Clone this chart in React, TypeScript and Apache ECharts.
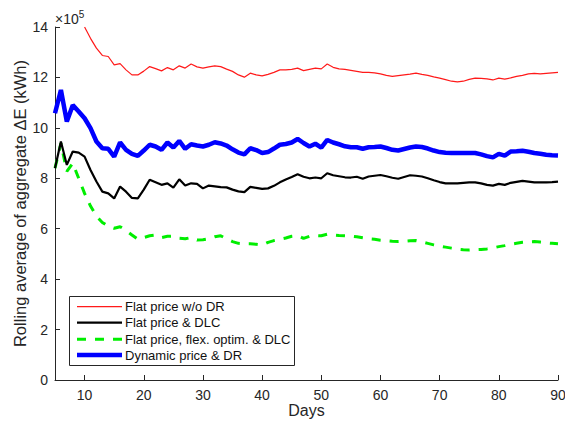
import React, { useEffect, useRef } from "react";
import * as echarts from "echarts";

const DAYS = [5,6,7,8,9,10,11,12,13,14,15,16,17,18,19,20,21,22,23,24,25,26,27,28,29,30,31,32,33,34,35,36,37,38,39,40,41,42,43,44,45,46,47,48,49,50,51,52,53,54,55,56,57,58,59,60,61,62,63,64,65,66,67,68,69,70,71,72,73,74,75,76,77,78,79,80,81,82,83,84,85,86,87,88,89,90];

const FLAT_NO_DR = [null,null,null,null,null,14.0,13.55,13.16,12.87,12.83,12.5,12.55,12.3,12.1,12.1,12.25,12.43,12.35,12.26,12.39,12.3,12.46,12.37,12.53,12.42,12.37,12.42,12.46,12.43,12.33,12.24,12.1,12.01,12.17,12.1,12.06,12.12,12.2,12.3,12.3,12.32,12.37,12.27,12.32,12.37,12.34,12.53,12.4,12.34,12.32,12.28,12.24,12.2,12.2,12.18,12.14,12.08,12.04,12.07,12.1,12.13,12.17,12.12,12.08,12.02,11.97,11.91,11.85,11.82,11.85,11.92,11.97,11.96,11.94,11.9,11.97,11.93,11.98,12.04,12.08,12.14,12.16,12.14,12.16,12.18,12.2];

const FLAT_DLC = [8.4,9.46,8.53,9.06,9.02,8.86,8.33,7.87,7.47,7.4,7.2,7.67,7.47,7.22,7.2,7.55,7.94,7.84,7.74,7.8,7.63,7.96,7.71,7.8,7.78,7.6,7.71,7.68,7.65,7.64,7.55,7.48,7.45,7.66,7.62,7.58,7.6,7.7,7.84,7.95,8.05,8.16,8.06,8.0,8.03,8.0,8.2,8.12,8.08,8.04,8.03,8.06,7.98,8.07,8.1,8.13,8.08,8.02,7.98,8.05,8.12,8.1,8.07,8.0,7.92,7.85,7.8,7.8,7.8,7.82,7.84,7.84,7.8,7.74,7.71,7.78,7.74,7.82,7.86,7.9,7.87,7.84,7.84,7.84,7.85,7.87];

const FLEX_DLC = [8.4,9.39,8.27,8.6,8.0,7.4,6.9,6.5,6.25,6.1,6.02,6.08,5.93,5.75,5.58,5.65,5.72,5.75,5.65,5.7,5.71,5.62,5.6,5.65,5.55,5.56,5.6,5.68,5.72,5.6,5.49,5.42,5.4,5.4,5.38,5.35,5.46,5.53,5.58,5.63,5.7,5.73,5.62,5.7,5.73,5.72,5.78,5.75,5.73,5.72,5.71,5.68,5.64,5.6,5.58,5.54,5.52,5.5,5.49,5.5,5.52,5.53,5.48,5.42,5.36,5.31,5.27,5.23,5.19,5.17,5.16,5.17,5.18,5.2,5.24,5.29,5.33,5.38,5.42,5.46,5.48,5.49,5.47,5.44,5.42,5.4];

const DYNAMIC_DR = [10.58,11.5,10.25,10.9,10.65,10.38,9.99,9.46,9.19,9.17,8.86,9.42,9.13,8.97,8.89,9.1,9.33,9.26,9.13,9.42,9.22,9.48,9.17,9.35,9.3,9.26,9.33,9.43,9.38,9.3,9.15,9.02,8.95,9.19,9.12,9.0,9.04,9.18,9.33,9.36,9.42,9.56,9.4,9.26,9.37,9.22,9.52,9.42,9.35,9.27,9.23,9.23,9.17,9.23,9.24,9.26,9.2,9.13,9.1,9.16,9.22,9.26,9.24,9.18,9.1,9.04,9.01,9.0,9.0,9.0,9.0,9.0,8.95,8.88,8.83,8.97,8.9,9.06,9.07,9.09,9.05,9.0,8.97,8.93,8.91,8.9];

const X_TICKS = [10,20,30,40,50,60,70,80,90];
const SERIES_NAMES = ["Flat price w/o DR", "Flat price & DLC", "Flat price, flex. optim. & DLC", "Dynamic price & DR"];
const SERIES_COLORS = ["#ff1a1a", "#000000", "#00ee00", "#0000ff"];
const SERIES_WIDTHS = [1.2, 2.2, 3, 4.5];
const SERIES_DASH: (number[] | "solid")[] = ["solid", "solid", [9, 9], "solid"];

const pairs = (vals: (number | null)[]) =>
  DAYS.map((d, i) => (vals[i] === null ? [d, null] : [d, vals[i]]));

const FONT = "Liberation Sans, Arial, sans-serif";
const AXIS_COLOR = "#262626";

export default function App() {
  const ref = useRef<HTMLDivElement>(null);
  useEffect(() => {
    if (!ref.current) return;
    const chart = echarts.init(ref.current, null, { renderer: "svg" });

    const legendX = 69.5, legendY = 296.5, legendW = 225, legendH = 69;
    const rowY = [306.7, 322.7, 339.3, 355];
    const legendGraphics: any[] = [
      {
        type: "rect",
        shape: { x: legendX, y: legendY, width: legendW, height: legendH },
        style: { fill: "#fff", stroke: AXIS_COLOR, lineWidth: 1 },
        z: 100,
      },
    ];
    SERIES_NAMES.forEach((name, i) => {
      legendGraphics.push({
        type: "line",
        shape: { x1: 77, y1: rowY[i], x2: 122, y2: rowY[i] },
        style: {
          stroke: SERIES_COLORS[i],
          lineWidth: SERIES_WIDTHS[i],
          lineDash: SERIES_DASH[i] === "solid" ? null : SERIES_DASH[i],
        },
        z: 101,
      });
      legendGraphics.push({
        type: "text",
        x: 125,
        y: rowY[i],
        style: {
          text: name,
          fontSize: 13,
          fontFamily: FONT,
          fill: "#111",
          verticalAlign: "middle",
          align: "left",
        },
        z: 101,
      });
    });

    chart.setOption({
      animation: false,
      backgroundColor: "#fff",
      textStyle: { fontFamily: FONT },
      grid: { left: 55, right: 7, top: 27, bottom: 41, containLabel: false, outerBoundsMode: "none" },
      xAxis: {
        type: "value",
        min: 5,
        max: 90,
        name: "Days",
        nameLocation: "middle",
        nameGap: 22,
        nameMoveOverlap: false,
        nameTextStyle: { fontSize: 16, lineHeight: 16, color: AXIS_COLOR, fontFamily: FONT },
        axisLine: { show: true, lineStyle: { color: AXIS_COLOR, width: 1 } },
        axisTick: { show: true, inside: true, length: 5, customValues: X_TICKS, lineStyle: { color: AXIS_COLOR } },
        axisLabel: { customValues: X_TICKS, fontSize: 14, color: AXIS_COLOR, margin: 8, fontFamily: FONT },
        splitLine: { show: false },
      },
      yAxis: {
        type: "value",
        min: 0,
        max: 14,
        interval: 2,
        name: "Rolling average of aggregate \u0394E (kWh)",
        nameLocation: "middle",
        nameGap: 27,
        nameMoveOverlap: false,
        nameTextStyle: { fontSize: 16.5, color: AXIS_COLOR, fontFamily: FONT },
        axisLine: { show: true, lineStyle: { color: AXIS_COLOR, width: 1 } },
        axisTick: { show: true, inside: true, length: 5, lineStyle: { color: AXIS_COLOR } },
        axisLabel: { fontSize: 14, color: AXIS_COLOR, margin: 7, fontFamily: FONT },
        splitLine: { show: false },
      },
      graphic: [
        {
          type: "text",
          x: 55,
          y: 9,
          style: {
            text: "{a|\u00d710}{b|5}",
            rich: {
              a: { fontSize: 14, fill: AXIS_COLOR, fontFamily: FONT },
              b: { fontSize: 10, fill: AXIS_COLOR, fontFamily: FONT, padding: [0, 0, 9, 0] },
            },
          },
        },
        ...legendGraphics,
      ],
      series: SERIES_NAMES.map((name, i) => ({
        name,
        type: "line",
        data: pairs([FLAT_NO_DR, FLAT_DLC, FLEX_DLC, DYNAMIC_DR][i]),
        showSymbol: false,
        symbol: "none",
        connectNulls: false,
        lineStyle: { color: SERIES_COLORS[i], width: SERIES_WIDTHS[i], type: SERIES_DASH[i] },
        itemStyle: { color: SERIES_COLORS[i] },
        z: [4, 3, 2, 5][i],
      })),
    });
    return () => chart.dispose();
  }, []);
  return <div ref={ref} style={{ width: 565, height: 421, position: "absolute", left: 0, top: 0 }} />;
}
